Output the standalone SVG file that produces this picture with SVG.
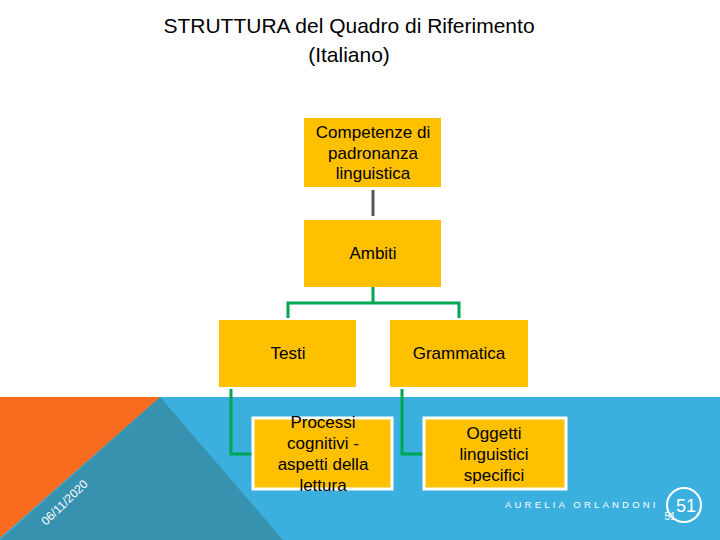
<svg xmlns="http://www.w3.org/2000/svg" width="720" height="540" viewBox="0 0 720 540">
<style>
.t{font-family:"Liberation Sans",Arial,sans-serif;fill:#000;text-anchor:middle}
.box{fill:#FFC000}
.g{fill:none;stroke:#00A651;stroke-width:3}
</style>
<rect width="720" height="540" fill="#fff"/>
<g id="background">
<rect x="0" y="397" width="720" height="143" fill="#3BB0DF"/>
<polygon points="160,397 283,540 0,540" fill="#3792B0"/>
<polygon points="0,397 160,397 0,538" fill="#F96B1E"/>
<text transform="translate(46,526) rotate(-44)" font-family="Liberation Sans,Arial,sans-serif" font-size="12" fill="#fff">06/11/2020</text>
<text x="505" y="508" font-family="Liberation Sans,Arial,sans-serif" font-size="9.5" fill="#fff" letter-spacing="3.2">AURELIA ORLANDONI</text>
<circle cx="684" cy="505" r="17" fill="none" stroke="#fff" stroke-width="2"/>
<text x="686" y="512" class="t" font-size="18" style="fill:#fff">51</text>
<text x="670" y="520" class="t" font-size="10" style="fill:#fff">51</text>
</g>
<text x="349" y="33" class="t" font-size="21">STRUTTURA del Quadro di Riferimento</text>
<text x="349" y="62" class="t" font-size="21">(Italiano)</text>
<g id="connectors">
<line x1="373" y1="190" x2="373" y2="216" stroke="#595959" stroke-width="3"/>
<path class="g" d="M373,287 V303 M288,318 V303 H459 V318"/>
<path class="g" d="M231,389 V454 H252"/>
<path class="g" d="M402,389 V454 H423"/>
</g>
<g id="n1"><rect class="box" x="304" y="118" width="137" height="69"/>
<text class="t" font-size="17" x="373" y="138">Competenze di</text>
<text class="t" font-size="17" x="373" y="159">padronanza</text>
<text class="t" font-size="17" x="373" y="179">linguistica</text></g>
<g id="n2"><rect class="box" x="304" y="220" width="137" height="67"/>
<text class="t" font-size="17" x="373" y="259">Ambiti</text></g>
<g id="n3"><rect class="box" x="219" y="320" width="137" height="67"/>
<text class="t" font-size="17" x="288" y="359">Testi</text></g>
<g id="n4"><rect class="box" x="390" y="320" width="138" height="67"/>
<text class="t" font-size="17" x="459" y="359">Grammatica</text></g>
<g id="n5"><rect class="box" x="253" y="418" width="139" height="71" stroke="#fff" stroke-width="3"/>
<text class="t" font-size="17" x="323" y="428">Processi</text>
<text class="t" font-size="17" x="323" y="449">cognitivi -</text>
<text class="t" font-size="17" x="323" y="470">aspetti della</text>
<text class="t" font-size="17" x="323" y="491">lettura</text></g>
<g id="n6"><rect class="box" x="424" y="418" width="142" height="71" stroke="#fff" stroke-width="3"/>
<text class="t" font-size="17" x="494" y="439">Oggetti</text>
<text class="t" font-size="17" x="494" y="460">linguistici</text>
<text class="t" font-size="17" x="494" y="481">specifici</text></g>
</svg>
